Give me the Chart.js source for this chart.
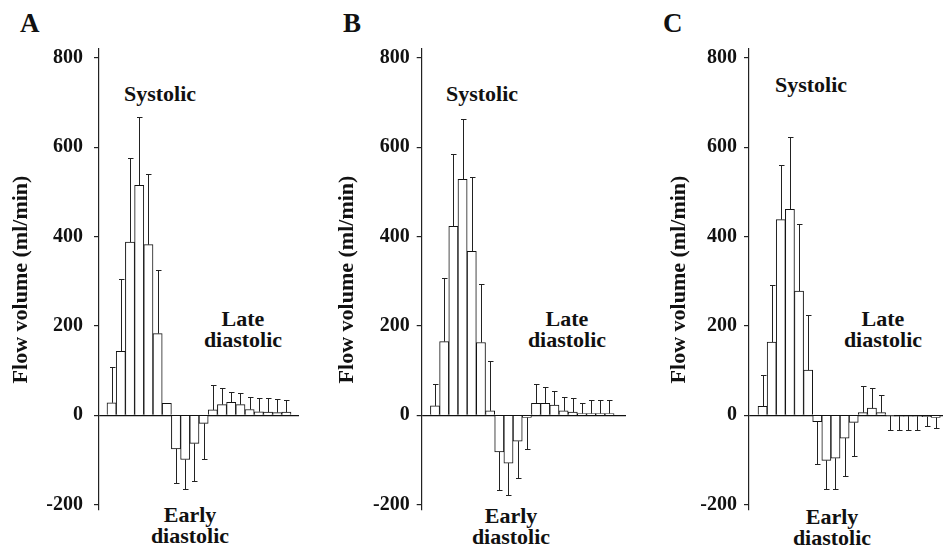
<!DOCTYPE html>
<html>
<head>
<meta charset="utf-8">
<script src="https://cdn.jsdelivr.net/npm/chart.js@4.4.1/dist/chart.umd.min.js"></script>
<style>
  body { margin: 0; background: #fff; width: 943px; height: 552px; position: relative; overflow: hidden;
         font-family: "Liberation Serif", "Times New Roman", serif; color: #111; }
  canvas { position: absolute; top: 0; }
  .note { position: absolute; font-weight: bold; font-size: 22px; line-height: 21px; text-align: center;
          white-space: nowrap; transform: translateX(-50%); }
  .letter { position: absolute; font-weight: bold; font-size: 27px; line-height: 27px; }
</style>
</head>
<body>
<div class="letter" style="left:20px;top:10px">A</div>
<div class="letter" style="left:343px;top:10px">B</div>
<div class="letter" style="left:663px;top:10px">C</div>

<div class="note" style="left:160px;top:83px">Systolic</div>
<div class="note" style="left:243px;top:308px">Late<br>diastolic</div>
<div class="note" style="left:190px;top:504px">Early<br>diastolic</div>

<div class="note" style="left:482px;top:83px">Systolic</div>
<div class="note" style="left:567px;top:308px">Late<br>diastolic</div>
<div class="note" style="left:511px;top:505px">Early<br>diastolic</div>

<div class="note" style="left:811px;top:74px">Systolic</div>
<div class="note" style="left:883px;top:308px">Late<br>diastolic</div>
<div class="note" style="left:832px;top:506px">Early<br>diastolic</div>

<canvas id="chartA" width="310" height="552" style="left:0px"></canvas>
<canvas id="chartB" width="310" height="552" style="left:326px"></canvas>
<canvas id="chartC" width="285" height="552" style="left:658px"></canvas>

<script>
// time bins across the cardiac cycle
const bins = [1, 2, 3, 4, 5, 6, 7, 8, 9, 10, 11, 12, 13, 14, 15, 16, 17, 18, 19, 20];
const yTicks = [-200, 0, 200, 400, 600, 800];

// mean flow volume (ml/min) and SD per bin
const aValues = [28, 143, 388, 515, 382, 183, 27, -75, -99, -63, -18, 12, 24, 29, 24, 13, 8, 7, 6, 7];
const aSD     = [81, 162, 188, 152, 159, 142, 0, 76, 67, 83, 79, 55, 37, 23, 27, 27, 30, 31, 30, 27];

const bValues = [21, 165, 423, 528, 367, 163, 10, -82, -107, -58, -5, 27, 27, 23, 10, 7, 4, 4, 4, 4];
const bSD     = [48, 143, 161, 136, 167, 131, 112, 85, 72, 82, 70, 44, 37, 31, 32, 32, 24, 31, 30, 30];

const cValues = [20, 164, 438, 461, 278, 101, -14, -101, -96, -51, -16, 6, 16, 6, -1, -2, -2, -2, -3, -5];
const cSD     = [70, 128, 122, 162, 150, 123, 94, 65, 70, 85, 75, 59, 45, 40, 33, 31, 31, 31, 22, 23];

const FONT = "'Liberation Serif', 'Times New Roman', serif";
const INK = "#111";

const panels = [
  { canvas: "chartA", axis: 99, pad: 11, right: 11, xMin: -0.37, xMax: 21.37, values: aValues, sd: aSD },
  { canvas: "chartB", axis: 95.7, pad: 7, right: 10, xMin: -0.45, xMax: 21.8, values: bValues, sd: bSD },
  { canvas: "chartC", axis: 91, pad: 7, right: 0, xMin: -0.49, xMax: 20.8, values: cValues, sd: cSD }
];

// one-sided error bars (away from zero), drawn through the chart scales
const errorBars = {
  id: "errorBars",
  afterDatasetsDraw(chart, args, opts) {
    const { ctx, scales } = chart;
    const meta = chart.getDatasetMeta(0);
    ctx.save();
    ctx.strokeStyle = "#222";
    ctx.lineWidth = 1;
    meta.data.forEach((bar, i) => {
      const v = opts.values[i];
      const s = opts.sd[i];
      if (!s) return;
      const end = v >= 0 ? v + s : v - s;
      const x = Math.round(bar.x) + 0.5;
      const y0 = scales.y.getPixelForValue(v);
      const y1 = Math.round(scales.y.getPixelForValue(end)) + 0.5;
      ctx.beginPath();
      ctx.moveTo(x, y0);
      ctx.lineTo(x, y1);
      ctx.moveTo(x - 2.5, y1);
      ctx.lineTo(x + 3, y1);
      ctx.stroke();
    });
    ctx.restore();
  }
};

panels.forEach((p) => {
  const ctx = document.getElementById(p.canvas).getContext("2d");
  new Chart(ctx, {
    type: "bar",
    data: {
      datasets: [
        {
          data: p.values.map((v, i) => ({ x: bins[i], y: v })),
          backgroundColor: "#fff",
          borderColor: INK,
          borderWidth: 1,
          barPercentage: 1,
          categoryPercentage: 1
        }
      ]
    },
    plugins: [errorBars],
    options: {
      responsive: false,
      animation: false,
      devicePixelRatio: 1,
      layout: { padding: { left: 0, right: p.right, top: 49, bottom: 42 } },
      plugins: {
        legend: { display: false },
        tooltip: { enabled: false },
        errorBars: { values: p.values, sd: p.sd }
      },
      scales: {
        x: {
          type: "linear",
          display: false,
          offset: false,
          min: p.xMin,
          max: p.xMax
        },
        y: {
          min: -212,
          max: 820,
          afterBuildTicks: (scale) => {
            scale.ticks = yTicks.map((v) => ({ value: v }));
          },
          afterFit: (scale) => {
            scale.width = p.axis;
          },
          border: { display: true, color: "#222", width: 1.2 },
          grid: {
            color: (c) => (c.tick && c.tick.value === 0 ? INK : "rgba(0,0,0,0)"),
            tickColor: "#222",
            tickLength: 5,
            lineWidth: 1.2
          },
          ticks: {
            color: INK,
            padding: p.pad,
            font: { family: FONT, size: 20, weight: "bold" },
            callback: (v) => String(v)
          },
          title: {
            display: true,
            text: "Flow volume (ml/min)",
            color: INK,
            font: { family: FONT, size: 22, weight: "bold" },
            padding: { top: 8, bottom: 0 }
          }
        }
      }
    }
  });
});
</script>
</body>
</html>
